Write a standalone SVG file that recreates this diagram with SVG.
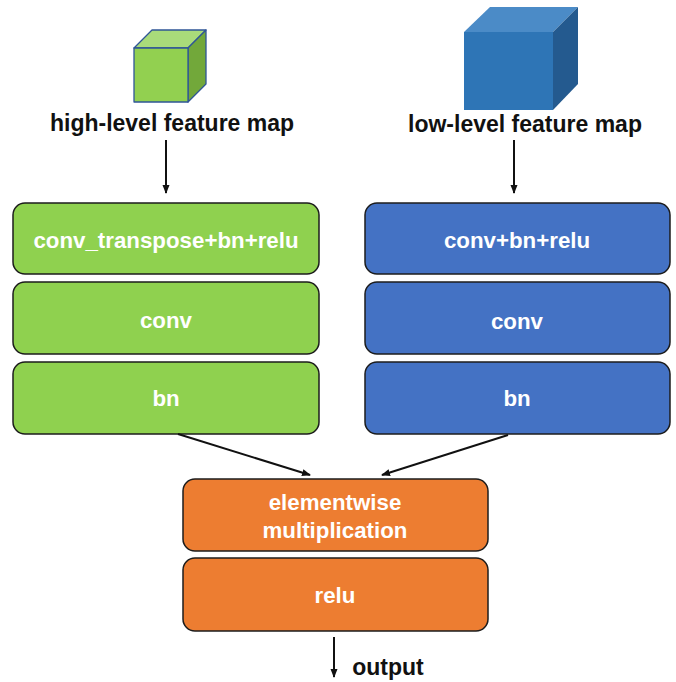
<svg xmlns="http://www.w3.org/2000/svg" width="676" height="682" viewBox="0 0 676 682">
  <style>
    .box { stroke: #1c1c1c; stroke-width: 1.5; }
    .green { fill: #8FD14F; }
    .blue { fill: #4472C4; }
    .orange { fill: #ED7D31; }
    .lbl { font-family: "Liberation Sans", Arial, sans-serif; font-weight: bold; font-size: 22.3px; fill: #ffffff; text-anchor: middle; dominant-baseline: central; }
    .cap { font-family: "Liberation Sans", Arial, sans-serif; font-weight: bold; font-size: 23px; fill: #111111; text-anchor: middle; }
    .wire { stroke: #111111; stroke-width: 2; fill: none; marker-end: url(#arrow); }
  </style>
  <defs>
    <marker id="arrow" markerWidth="10" markerHeight="10" refX="8" refY="5" orient="auto" markerUnits="userSpaceOnUse">
      <path d="M0,1.5 L9,5 L0,8.5 Z" fill="#111111"/>
    </marker>
  </defs>
  <rect width="676" height="682" fill="#ffffff"/>

  <!-- high-level input: small green cube -->
  <g id="high-level-input">
    <g stroke="#2F5597" stroke-width="1.3" stroke-linejoin="round">
      <polygon points="134,48 152,30 206,30 188,48" fill="#A9DB7A"/>
      <polygon points="188,48 206,30 206,84 188,102" fill="#72A83A"/>
      <rect x="134" y="48" width="54" height="54" fill="#92D050"/>
    </g>
    <text class="cap" x="172" y="131">high-level feature map</text>
  </g>

  <!-- low-level input: large blue cube -->
  <g id="low-level-input">
    <polygon points="464,32 490,7 578,7 553,32" fill="#4B8BC7"/>
    <polygon points="553,32 578,7 578,84 553,110" fill="#245A8F"/>
    <rect x="464" y="32" width="89" height="78" fill="#2E75B6"/>
    <text class="cap" x="525" y="132">low-level feature map</text>
  </g>

  <!-- high-level branch -->
  <g id="hl-deconv">
    <rect class="box green" x="13" y="203" width="306" height="71" rx="12"/>
    <text class="lbl" x="166" y="240">conv_transpose+bn+relu</text>
  </g>
  <g id="hl-conv">
    <rect class="box green" x="13" y="282" width="306" height="72" rx="12"/>
    <text class="lbl" x="166" y="320">conv</text>
  </g>
  <g id="hl-bn">
    <rect class="box green" x="13" y="362" width="306" height="72" rx="12"/>
    <text class="lbl" x="166" y="398">bn</text>
  </g>

  <!-- low-level branch -->
  <g id="ll-conv-bn-relu">
    <rect class="box blue" x="365" y="203" width="305" height="71" rx="12"/>
    <text class="lbl" x="517" y="240">conv+bn+relu</text>
  </g>
  <g id="ll-conv">
    <rect class="box blue" x="365" y="282" width="305" height="72" rx="12"/>
    <text class="lbl" x="517" y="321">conv</text>
  </g>
  <g id="ll-bn">
    <rect class="box blue" x="365" y="362" width="305" height="72" rx="12"/>
    <text class="lbl" x="517" y="398">bn</text>
  </g>

  <!-- fusion -->
  <g id="fuse-mul">
    <rect class="box orange" x="183" y="479" width="305" height="72" rx="12"/>
    <text class="lbl" x="335" y="502">elementwise</text>
    <text class="lbl" x="335" y="530">multiplication</text>
  </g>
  <g id="fuse-relu">
    <rect class="box orange" x="183" y="558" width="305" height="73" rx="12"/>
    <text class="lbl" x="335" y="595">relu</text>
  </g>

  <!-- connectors -->
  <g id="connectors">
    <line class="wire" x1="166" y1="140" x2="166" y2="193"/>
    <line class="wire" x1="514" y1="140" x2="514" y2="193"/>
    <line class="wire" x1="178" y1="434" x2="310" y2="475"/>
    <line class="wire" x1="508" y1="435" x2="382" y2="475"/>
    <line class="wire" x1="334" y1="637" x2="334" y2="677"/>
  </g>
  <text class="cap" x="388" y="675">output</text>
</svg>
